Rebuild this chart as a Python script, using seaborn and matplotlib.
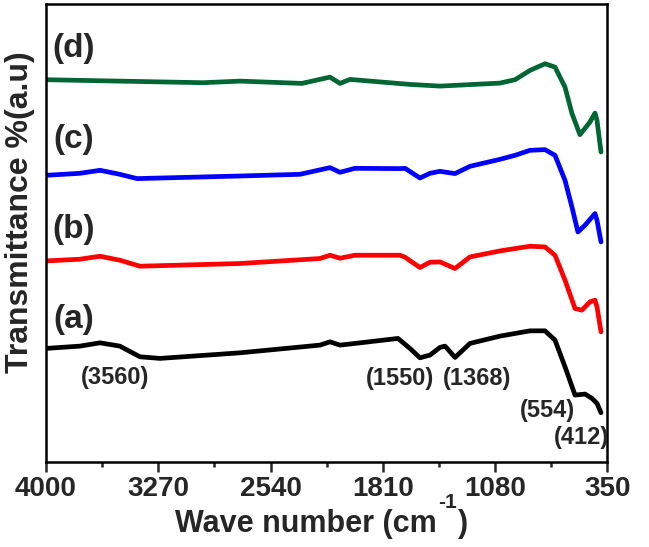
import matplotlib
matplotlib.use("Agg")
import matplotlib.pyplot as plt
import seaborn as sns
import pandas as pd
from matplotlib.ticker import FixedLocator

# ---- data (wavenumber cm^-1, transmittance a.u.) ----
wn_a = [4000, 3780, 3649, 3520, 3389, 3259, 2739, 2219, 2154, 2089, 1991, 1712, 1634, 1569, 1504,
        1439, 1406, 1341, 1244, 1049, 854, 756, 691, 626, 561, 496, 451, 418, 392]
t_a = [113.7, 116, 119.3, 116, 105.3, 103.7, 109.3, 117, 120.3, 117, 118.7, 123.7, 113.7, 104.3, 107,
       114.7, 116, 104.7, 118.7, 126, 131.3, 131.3, 122, 95.3, 67, 68, 63.7, 58.7, 49.3]

wn_b = [4000, 3780, 3649, 3520, 3389, 2739, 2219, 2154, 2089, 1991, 1699, 1666, 1569, 1504, 1439, 1341,
        1244, 1049, 854, 756, 691, 626, 561, 516, 464, 431, 418, 392]
t_b = [201.3, 203, 206, 202, 196, 198.7, 203.7, 207, 204, 207, 207, 205, 194.7, 200, 200.3, 193.7,
       205.3, 211.3, 216, 215.3, 207, 182, 153.7, 152, 160.3, 162, 155.3, 130.3]

wn_c = [4000, 3780, 3649, 3520, 3408, 2739, 2349, 2154, 2089, 1991, 1699, 1666, 1569, 1504, 1439, 1341,
        1244, 1049, 951, 854, 756, 691, 626, 581, 542, 496, 431, 418, 392]
t_c = [287, 289, 292, 288, 283.7, 286.3, 288, 294.7, 290, 294, 293.7, 294, 284.3, 289, 291, 288.7,
       296, 303, 307, 312, 312.7, 307, 282, 255.3, 230.3, 237, 248.7, 242, 220.3]

wn_d = [4000, 2979, 2739, 2336, 2154, 2089, 2024, 1634, 1439, 1049, 951, 854, 756, 691,
        626, 581, 529, 464, 431, 418, 392]
t_d = [382.7, 379.7, 381.3, 379, 385.3, 379, 383, 378, 376.3, 379.3, 382.7, 392, 398.7, 395.3,
       375.3, 349, 327.7, 340.3, 349.3, 342, 310.3]

series_labels = ["(a)", "(b)", "(c)", "(d)"]
series_colors = ["#000000", "#ff0000", "#0000ff", "#006633"]
xticks = [4000, 3270, 2540, 1810, 1080, 350]
peak_labels = ["(3560)", "(1550)", "(1368)", "(554)", "(412)"]

sns.set_style("white")
plt.rcParams['font.family'] = ['Liberation Sans', 'DejaVu Sans']
plt.rcParams['font.weight'] = 'bold'

W, H = 649, 547
fig = plt.figure(figsize=(6.49, 5.47), dpi=100)
ax = fig.add_axes([0.0709, 0.1554, 0.8651, 0.8373])

for wn, t, c in zip([wn_a, wn_b, wn_c, wn_d], [t_a, t_b, t_c, t_d], series_colors):
    df = pd.DataFrame({"wn": wn, "t": t})
    sns.lineplot(data=df, x="wn", y="t", color=c, linewidth=3.4, estimator=None,
                 sort=False, ax=ax)

ax.set_xlim(4000, 350)
ax.set_ylim(0, 458.5)
ax.set_yticks([])
ax.set_ylabel("")
ax.set_xlabel("")
ax.xaxis.set_major_locator(FixedLocator(xticks))
ax.xaxis.set_minor_locator(FixedLocator([(xticks[i] + xticks[i + 1]) / 2 for i in range(len(xticks) - 1)]))
ax.set_xticklabels([str(v) for v in xticks])
ax.tick_params(axis='x', which='major', direction='out', length=7, width=1.8,
               labelsize=20, pad=3, bottom=True)
ax.tick_params(axis='x', which='minor', direction='out', length=3.5, width=1.8, bottom=True)
for lab in ax.get_xticklabels():
    lab.set_fontweight('bold')
for sp in ax.spines.values():
    sp.set_linewidth(1.8)
    sp.set_color('black')

# x label with a hyphen superscript, built from three text pieces
renderer = fig.canvas.get_renderer()
base_y = 0.027
t1 = fig.text(0.27, base_y, "Wave number (cm", fontsize=22, fontweight='bold',
              ha='left', va='baseline')
e1 = t1.get_window_extent(renderer)
t2 = fig.text((e1.x1 + 1) / W, base_y + 0.044, "-1", fontsize=15, fontweight='bold',
              ha='left', va='baseline')
e2 = t2.get_window_extent(renderer)
t3 = fig.text((e2.x1 + 1) / W, base_y, ")", fontsize=22, fontweight='bold',
              ha='left', va='baseline')

ax.set_ylabel("Transmittance %(a.u)", fontsize=23, fontweight='bold')
ax.yaxis.set_label_coords(-0.02, 0.545)

# series labels
for lab, y in zip(series_labels, [143, 233, 323, 414]):
    ax.text(3822, y, lab, fontsize=24, fontweight='bold', ha='center', va='center')

# peak annotations
for lab, (x, y) in zip(peak_labels, [(3550, 85), (1699, 84), (1198, 84), (737, 52), (516, 25)]):
    ax.text(x, y, lab, fontsize=17, fontweight='bold', ha='center', va='center')

fig.savefig("out.png", dpi=100)
